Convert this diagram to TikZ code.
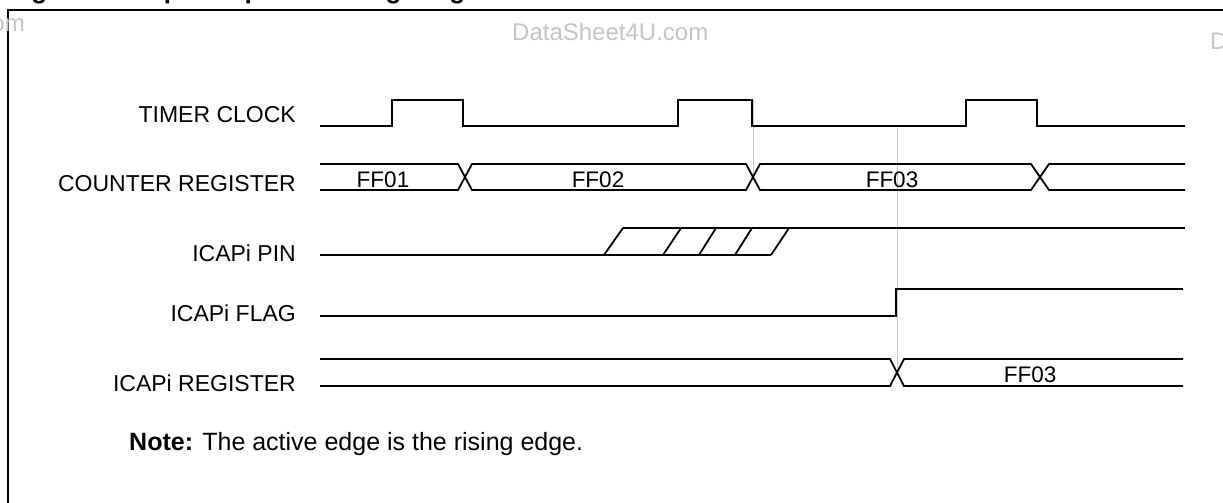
\documentclass[tikz,border=0pt]{standalone}
\usepackage{fontspec}
\setmainfont{Liberation Sans}
\definecolor{wm}{RGB}{196,196,196}
\definecolor{guidegray}{RGB}{200,200,200}
\begin{document}
\begin{tikzpicture}[x=1pt,y=-1pt,
  wave/.style={line width=1.8pt, line join=miter},
  guide/.style={draw=guidegray, line width=1pt},
  lbl/.style={anchor=east, inner sep=0pt, font=\fontsize{23}{27}\selectfont},
  buslbl/.style={anchor=center, inner sep=0pt, font=\fontsize{22.5}{27}\selectfont},
  wmark/.style={inner sep=0pt, text=wm, font=\fontsize{24}{29}\selectfont}]
\useasboundingbox (0,0) rectangle (1223,503);
% title (clipped at top, as in the reference)
\node[anchor=base west, inner sep=0pt, font=\bfseries\fontsize{26}{30}\selectfont] (title) at (8,-1) {Figure 38. Input Capture Timing Diagram};
% frame
\draw[line width=2.2pt] (8,620) -- (8,10) -- (1300,10);
% watermarks
\node[wmark, anchor=base east] (wmL) at (25,32) {DataSheet4U.com};
\node[wmark, anchor=base west] (wmC) at (512,41) {DataSheet4U.com};
\node[wmark, anchor=base west] (wmR) at (1210,50) {DataSheet4U.com};
% labels
\node[lbl] (lclk) at (296,115) {TIMER CLOCK};
\node[lbl] (lcnt) at (296,184) {COUNTER REGISTER};
\node[lbl] (lpin) at (296,253.5) {ICAPi PIN};
\node[lbl] (lflag) at (296,313) {ICAPi FLAG};
\node[lbl] (lreg) at (296,383) {ICAPi REGISTER};
% guide lines
\draw[guide] (753,100) -- (753,178);
\draw[guide] (897,128) -- (897,372);
% timer clock
\draw[wave] (320,126) -- (392,126) -- (392,100) -- (463,100) -- (463,126) -- (678,126) -- (678,100) -- (752,100) -- (752,126) -- (966,126) -- (966,100) -- (1037,100) -- (1037,126) -- (1185,126);
% counter register
\draw[wave] (320,164) -- (458,164) -- (472,190) -- (746,190) -- (760,164) -- (1031,164) -- (1049,190) -- (1185,190);
\draw[wave] (320,190) -- (458,190) -- (472,164) -- (746,164) -- (760,190) -- (1031,190) -- (1049,164) -- (1185,164);
\node[buslbl] (ff01) at (383,179.5) {FF01};
\node[buslbl] (ff02) at (598,179.5) {FF02};
\node[buslbl] (ff03) at (892,179.5) {FF03};
% ICAPi pin
\draw[wave] (320,255) -- (771,255);
\draw[wave] (623,228) -- (1185,228);
\foreach \a/\b in {604/623, 663/681, 699/716, 735/752, 771/789}
  \draw[wave] (\a,255) -- (\b,228);
% ICAPi flag
\draw[wave] (320,316) -- (896,316) -- (896,289) -- (1183,289);
% ICAPi register
\draw[wave] (320,359) -- (890,359) -- (904,386) -- (1183,386);
\draw[wave] (320,386) -- (890,386) -- (904,359) -- (1183,359);
\node[buslbl] (ff03r) at (1030,375) {FF03};
% note
\node[anchor=base west, inner sep=0pt, font=\fontsize{25}{30}\selectfont] (note) at (129,450) {\textbf{Note:} The active edge is the rising edge.};
\end{tikzpicture}
\end{document}
